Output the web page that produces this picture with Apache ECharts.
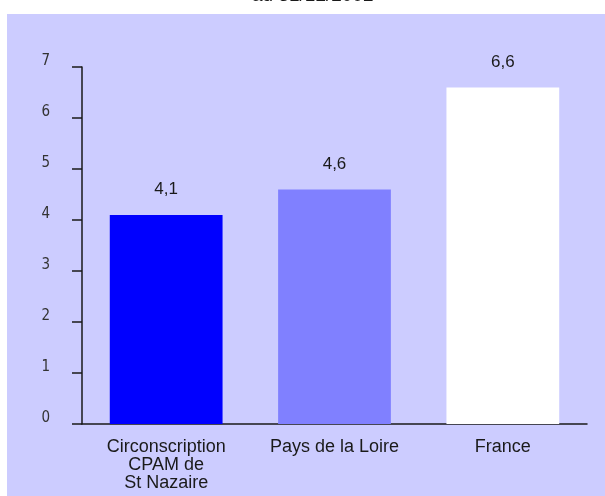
<!DOCTYPE html>
<html>
<head>
<meta charset="utf-8">
<script src="https://cdn.jsdelivr.net/npm/echarts@6/dist/echarts.min.js"></script>
<style>
  html, body { margin: 0; padding: 0; background: #ffffff; }
  #chart { width: 605px; height: 496px; }
</style>
</head>
<body>
<div id="chart"></div>
<script>
// Data
const categories = ['Circonscription\nCPAM de\nSt Nazaire', 'Pays de la Loire', 'France'];
const values = [4.1, 4.6, 6.6];
const barColors = ['#0000ff', '#8080ff', '#ffffff'];
const yTicks = [0, 1, 2, 3, 4, 5, 6, 7];

const chart = echarts.init(document.getElementById('chart'));
chart.setOption({
    animation: false,
    backgroundColor: '#ffffff',
    textStyle: { fontFamily: '"Liberation Sans", Arial, sans-serif' },
    title: {
        text: 'au 31/12/2002',
        left: 247,
        top: -19,
        textStyle: { fontSize: 19, fontWeight: 'normal', color: '#1a1a1a' }
    },
    graphic: [{
        type: 'rect',
        z: -10,
        shape: { x: 7, y: 14, width: 600, height: 484 },
        style: { fill: '#ccccff' }
    }],
    grid: { left: 82, right: 18, top: 67, bottom: 72 },
    xAxis: {
        type: 'category',
        data: categories,
        axisLine: { lineStyle: { color: '#1a1a1a', width: 1.5 } },
        axisTick: { show: false },
        axisLabel: {
            color: '#1a1a1a',
            fontSize: 18,
            lineHeight: 18,
            margin: 14,
            interval: 0
        }
    },
    yAxis: {
        type: 'value',
        min: yTicks[0],
        max: yTicks[yTicks.length - 1],
        interval: 1,
        axisLine: { show: true, lineStyle: { color: '#1a1a1a', width: 1.5 } },
        axisTick: { show: true, length: 10, lineStyle: { color: '#1a1a1a', width: 1.5 } },
        splitLine: { show: false },
        axisLabel: {
            color: '#333333',
            fontSize: 15,
            fontFamily: '"Liberation Sans Narrow", "DejaVu Sans Condensed", sans-serif',
            margin: 32,
            verticalAlign: 'bottom',
            lineHeight: 12
        }
    },
    series: [{
        type: 'bar',
        barCategoryGap: '33%',
        data: values.map((v, i) => ({ value: v, itemStyle: { color: barColors[i] } })),
        label: {
            show: true,
            position: 'top',
            distance: 17,
            fontSize: 17,
            color: '#1a1a1a',
            formatter: p => String(p.value).replace('.', ',')
        }
    }]
});

window.addEventListener('resize', function() {
    chart.resize();
});
</script>
</body>
</html>
